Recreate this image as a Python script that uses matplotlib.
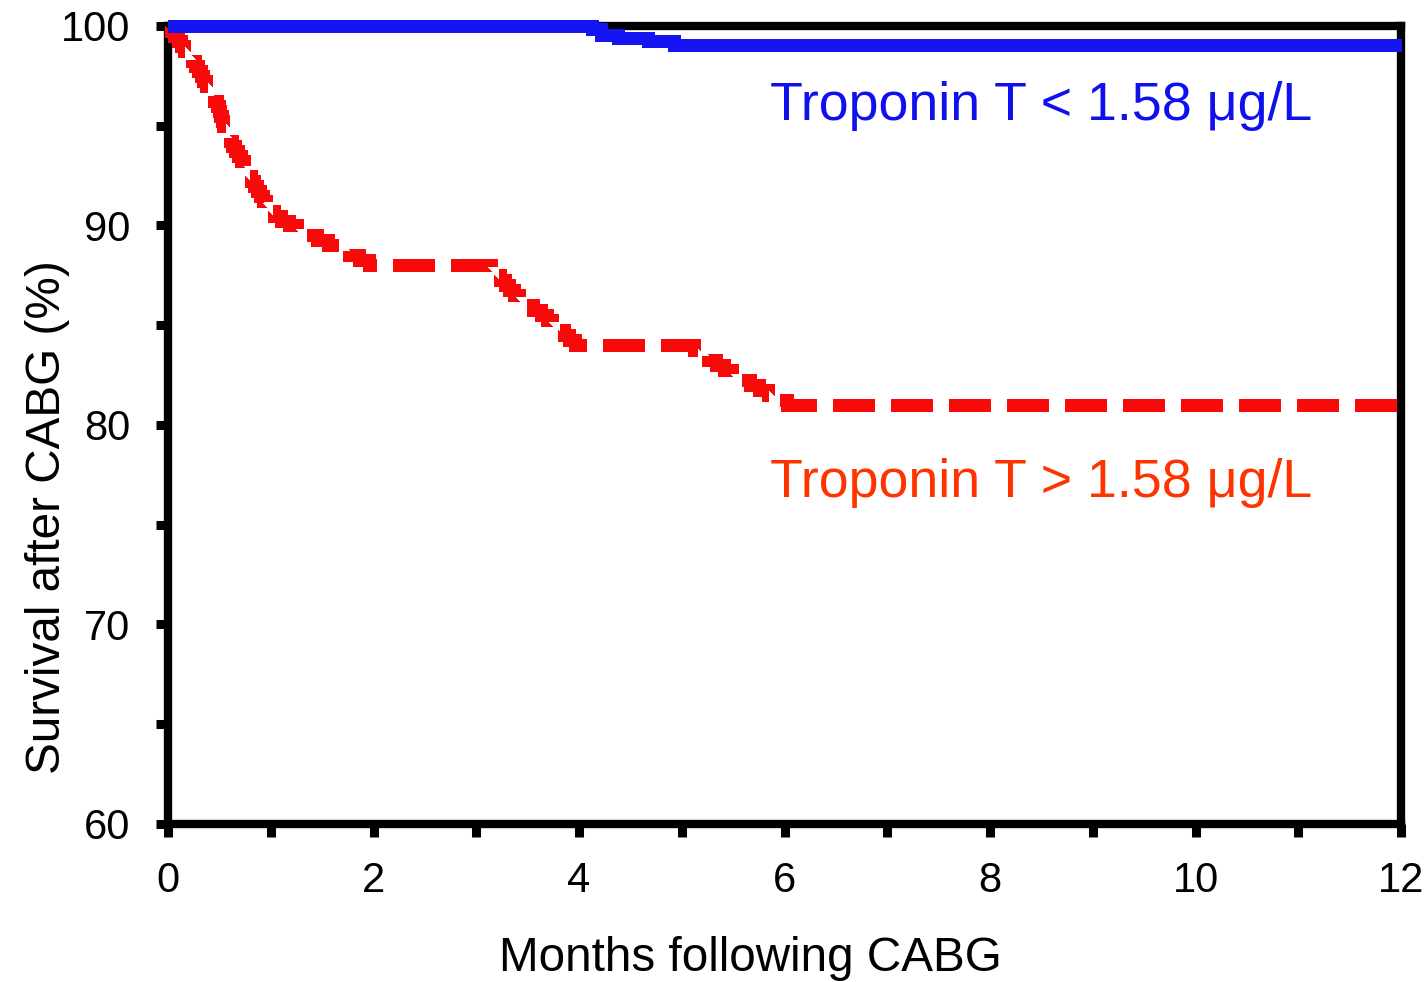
import matplotlib.pyplot as plt
from matplotlib.ticker import MultipleLocator, FixedLocator

plt.rcParams['font.family'] = ['Liberation Sans', 'DejaVu Sans']

# Kaplan-Meier survival, troponin T < 1.58 ug/L
t_low = [0, 4.13, 4.21, 4.38, 4.67, 4.92, 12]
s_low = [100, 99.85, 99.55, 99.4, 99.25, 99.05, 99.05]

# Kaplan-Meier survival, troponin T > 1.58 ug/L (event times, months)
t_high = [0.00, 0.03, 0.06, 0.10, 0.13, 0.16, 0.20, 0.23, 0.26, 0.29,
          0.32, 0.34, 0.37, 0.40, 0.43, 0.45, 0.48, 0.50, 0.51, 0.53,
          0.54, 0.56, 0.58, 0.60, 0.62, 0.65, 0.68, 0.71, 0.74, 0.76,
          0.79, 0.81, 0.84, 0.87, 0.90, 0.92, 0.95, 0.99, 1.03, 1.10,
          1.18, 1.26, 1.34, 1.45, 1.56, 1.66, 1.76, 1.86, 1.96,
          3.14, 3.19, 3.23, 3.28, 3.32, 3.37, 3.42, 3.47, 3.55, 3.63,
          3.69, 3.74, 3.79, 3.85, 3.90, 3.96,
          5.12, 5.18, 5.26, 5.33, 5.41, 5.49, 5.57, 5.66, 5.75, 5.84,
          5.93, 6.02,
          12.0]
s_high = [100.0, 99.75, 99.5, 99.25, 99.0, 98.75, 98.5, 98.25, 98.0, 97.75,
          97.5, 97.25, 97.0, 96.75, 96.5, 96.25, 96.0, 95.75, 95.5, 95.25,
          95.0, 94.75, 94.5, 94.25, 94.0, 93.75, 93.5, 93.25, 93.0, 92.75,
          92.5, 92.25, 92.0, 91.75, 91.5, 91.25, 91.0, 90.75, 90.5, 90.25,
          90.0, 89.75, 89.5, 89.25, 89.0, 88.75, 88.5, 88.25, 88.0,
          87.75, 87.5, 87.25, 87.0, 86.75, 86.5, 86.25, 86.0, 85.75, 85.5,
          85.25, 85.0, 84.75, 84.5, 84.25, 84.0,
          83.75, 83.5, 83.25, 83.0, 82.75, 82.5, 82.25, 82.0, 81.75, 81.5,
          81.25, 81.0,
          81.0]

x_labels = ['0', '2', '4', '6', '8', '10', '12']

fig = plt.figure(figsize=(14.27, 9.82), dpi=100)
ax = fig.add_axes([168 / 1427, 1 - 824 / 982, 1233 / 1427, 798 / 982])

ax.step(t_high, s_high, where='post', color='#f90a0a', lw=9,
        linestyle=(0, (3.3, 1.3)), dash_capstyle='butt',
        dash_joinstyle='miter', antialiased=False,
        clip_on=False, zorder=4)
ax.step(t_low, s_low, where='post', color='#1515f2', lw=9,
        solid_capstyle='butt', solid_joinstyle='miter', antialiased=False,
        clip_on=False, zorder=5)

ax.set_xlim(0, 12)
ax.set_ylim(60, 100)

ax.xaxis.set_major_locator(FixedLocator(range(0, 13, 2)))
ax.xaxis.set_minor_locator(FixedLocator(range(1, 12, 2)))
ax.set_xticklabels(x_labels)
ax.yaxis.set_major_locator(MultipleLocator(10))
ax.yaxis.set_minor_locator(MultipleLocator(5))

for sp in ax.spines.values():
    sp.set_linewidth(6)
    sp.set_zorder(3)

ax.tick_params(which='both', direction='out', length=9, width=6.5,
               labelsize=30)
ax.tick_params(axis='x', which='major', pad=18)
ax.tick_params(axis='y', which='major', pad=18)

ax.text(5.86, 95.29, 'Troponin T < 1.58 μg/L', color='#1010ee',
        fontsize=38.7, ha='left', va='baseline')
ax.text(5.86, 76.4, 'Troponin T > 1.58 μg/L', color='#ff3300',
        fontsize=38.7, ha='left', va='baseline')

fig.text(750 / 1427, 1 - 971 / 982, 'Months following CABG', fontsize=34.3,
         ha='center', va='baseline')
fig.text(60 / 1427, 1 - 517 / 982, 'Survival after CABG (%)', fontsize=34.3,
         rotation=90, rotation_mode='anchor', ha='center', va='baseline')

fig.savefig('out.png', dpi=100)
